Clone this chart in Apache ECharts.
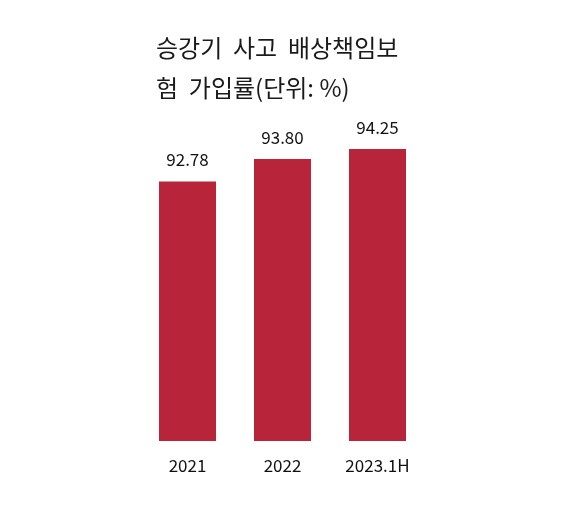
<!DOCTYPE html>
<html>
<head>
<meta charset="utf-8">
<script src="https://cdn.jsdelivr.net/npm/echarts@6/dist/echarts.min.js"></script>
<style>
  html, body { margin: 0; padding: 0; background: #fff; }
  #chart { width: 580px; height: 512px; }
</style>
</head>
<body>
<div id="chart"></div>
<script>
// 승강기 사고 배상책임보험 가입률 (단위: %)
const years = ['2021', '2022', '2023.1H']
const rates = [92.78, 93.80, 94.25]

const chart = echarts.init(document.getElementById('chart'))

const option = {
    backgroundColor: '#fff',
    textStyle: { fontFamily: '"Noto Sans CJK KR", "Noto Sans", sans-serif' },
    title: {
        text: '승강기  사고  배상책임보\n험  가입률(단위: %)',
        left: 151,
        top: 23,
        textStyle: {
            fontSize: 24,
            fontWeight: 'normal',
            color: '#1a1a1a',
            lineHeight: 40
        }
    },
    grid: { left: 140, right: 155, top: 149, bottom: 71 },
    xAxis: {
        type: 'category',
        data: years,
        axisLine: { show: false },
        axisTick: { show: false },
        axisLabel: { fontSize: 17, color: '#111', margin: 16 }
    },
    yAxis: {
        type: 'value',
        min: 81,
        max: 94.25,
        show: false,
        splitLine: { show: false }
    },
    series: [{
        type: 'bar',
        data: rates,
        barWidth: 57,
        itemStyle: { color: '#B8243A' },
        label: {
            show: true,
            position: 'top',
            distance: 13,
            fontSize: 17,
            color: '#111',
            formatter: p => p.value.toFixed(2)
        }
    }]
}

chart.setOption(option)
</script>
</body>
</html>
